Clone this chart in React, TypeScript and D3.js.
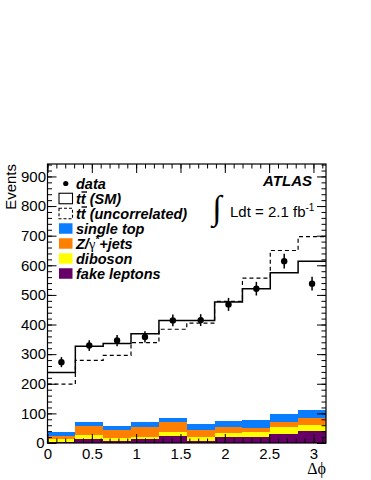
import React, { useEffect, useRef } from 'react';
import * as d3 from 'd3';

// bin edges of delta phi (10 bins from 0 to pi)
const binEdges = [0, 0.314, 0.628, 0.942, 1.257, 1.571, 1.885, 2.199, 2.513, 2.827, 3.1416];
const dataCounts = [273, 329, 346, 358, 414, 415, 468, 521, 614, 538];
const dataErrors = [17, 18, 19, 19, 20, 20, 22, 23, 25, 23];
const ttbarSM = [238, 327, 336, 369, 414, 414, 476, 521, 575, 614];
const ttbarUncorr = [199, 279, 296, 339, 384, 405, 478, 557, 650, 697];
const fakeLeptons = [4, 15, 8, 12, 24, 8, 19, 21, 29, 40];
const diboson = [8, 13, 10, 9, 14, 11, 16, 17, 24, 21];
const zJets = [13, 30, 26, 33, 32, 25, 20, 14, 17, 24];
const singleTop = [11, 14, 13, 16, 16, 19, 20, 25, 28, 26];
const xTicks = [0, 0.5, 1, 1.5, 2, 2.5, 3];
const yTicks = [0, 100, 200, 300, 400, 500, 600, 700, 800, 900];

const bkgLayers = [
  { key: 'fake', values: fakeLeptons, color: '#660066' },
  { key: 'diboson', values: diboson, color: '#ffff00' },
  { key: 'zjets', values: zJets, color: '#ff7f00' },
  { key: 'singletop', values: singleTop, color: '#0a7cff' }
];

const FONT = "'Liberation Sans', Arial, Helvetica, sans-serif";
const SERIF = "'Liberation Serif', 'Times New Roman', serif";

const DeltaPhiChart = () => {
  const ref = useRef<SVGSVGElement>(null);

  useEffect(() => {
    const svg = d3.select(ref.current);
    svg.selectAll('*').remove();

    const left = 47.5, right = 326, top = 164, bottom = 443;
    const x = d3.scaleLinear().domain([0, Math.PI]).range([left, right]);
    const y = d3.scaleLinear().domain([0, 942]).range([bottom, top]);

    svg.append('rect').attr('width', 371).attr('height', 480).attr('fill', '#fff');

    // stacked backgrounds
    const rows = binEdges.slice(0, -1).map((_, i) => {
      const r: any = { i };
      bkgLayers.forEach(l => { r[l.key] = l.values[i]; });
      return r;
    });
    const stacked = d3.stack().keys(bkgLayers.map(l => l.key))(rows);
    stacked.forEach((layer, li) => {
      svg.append('g')
        .selectAll('rect')
        .data(layer)
        .join('rect')
        .attr('x', (d: any) => x(binEdges[d.data.i]))
        .attr('width', (d: any) => x(binEdges[d.data.i + 1]) - x(binEdges[d.data.i]))
        .attr('y', d => y(d[1]))
        .attr('height', d => y(d[0]) - y(d[1]))
        .attr('fill', bkgLayers[li].color)
        .attr('shape-rendering', 'crispEdges');
    });

    // step histograms
    const step = d3.line<number[]>()
      .x(d => x(d[0]))
      .y(d => y(d[1]))
      .curve(d3.curveStepAfter);
    const stepPts = (vals: number[]) => [
      ...vals.map((v, i) => [binEdges[i], v]),
      [binEdges[binEdges.length - 1], vals[vals.length - 1]]
    ];
    svg.append('path')
      .attr('d', step(stepPts(ttbarUncorr)))
      .attr('fill', 'none')
      .attr('stroke', '#000')
      .attr('stroke-width', 1.2)
      .attr('stroke-dasharray', '4,3');
    svg.append('path')
      .attr('d', step(stepPts(ttbarSM)))
      .attr('fill', 'none')
      .attr('stroke', '#000')
      .attr('stroke-width', 1.5);

    // data points
    const centers = dataCounts.map((_, i) => (binEdges[i] + binEdges[i + 1]) / 2);
    const pts = svg.append('g');
    dataCounts.forEach((v, i) => {
      pts.append('line')
        .attr('x1', x(centers[i])).attr('x2', x(centers[i]))
        .attr('y1', y(v - dataErrors[i])).attr('y2', y(v + dataErrors[i]))
        .attr('stroke', '#000').attr('stroke-width', 1.5);
      pts.append('circle')
        .attr('cx', x(centers[i])).attr('cy', y(v)).attr('r', 3.2).attr('fill', '#000');
    });

    // frame
    svg.append('rect')
      .attr('x', left).attr('y', top)
      .attr('width', right - left).attr('height', bottom - top)
      .attr('fill', 'none').attr('stroke', '#000').attr('stroke-width', 1.2);

    const xMinor = d3.range(0, 3.15, 0.1);
    const yMinor = d3.range(0, 941, 20);

    const axisStyle = (g: any) => {
      g.select('.domain').remove();
      g.selectAll('line').attr('stroke', '#000').attr('stroke-width', 1);
      g.selectAll('text').style('font-family', FONT).style('font-size', '15px').attr('fill', '#000');
    };

    // bottom
    svg.append('g').attr('transform', `translate(0,${bottom})`)
      .call(d3.axisBottom(x).tickValues(xMinor).tickSize(-4.5).tickFormat(() => ''))
      .call(axisStyle);
    svg.append('g').attr('transform', `translate(0,${bottom})`)
      .call(d3.axisBottom(x).tickValues(xTicks).tickSize(-9).tickPadding(4).tickFormat(d3.format('')))
      .call(axisStyle)
      .selectAll('text').attr('y', 5);
    // top
    svg.append('g').attr('transform', `translate(0,${top})`)
      .call(d3.axisTop(x).tickValues(xMinor).tickSize(-4.5).tickFormat(() => ''))
      .call(axisStyle);
    svg.append('g').attr('transform', `translate(0,${top})`)
      .call(d3.axisTop(x).tickValues(xTicks).tickSize(-9).tickFormat(() => ''))
      .call(axisStyle);
    // left
    svg.append('g').attr('transform', `translate(${left},0)`)
      .call(d3.axisLeft(y).tickValues(yMinor).tickSize(-4.5).tickFormat(() => ''))
      .call(axisStyle);
    svg.append('g').attr('transform', `translate(${left},0)`)
      .call(d3.axisLeft(y).tickValues(yTicks).tickSize(-9).tickPadding(1.5).tickFormat(d3.format('')))
      .call(axisStyle)
      .selectAll('text').attr('x', (d: any) => (d === 0 ? -3 : -1.5));
    // right
    svg.append('g').attr('transform', `translate(${right},0)`)
      .call(d3.axisRight(y).tickValues(yMinor).tickSize(-4.5).tickFormat(() => ''))
      .call(axisStyle);
    svg.append('g').attr('transform', `translate(${right},0)`)
      .call(d3.axisRight(y).tickValues(yTicks).tickSize(-9).tickFormat(() => ''))
      .call(axisStyle);

    // axis titles
    svg.append('text')
      .attr('transform', 'translate(16,164) rotate(-90)')
      .attr('text-anchor', 'end')
      .style('font-family', FONT).style('font-size', '15px')
      .text('Events');
    svg.append('text')
      .attr('x', 326).attr('y', 474)
      .attr('text-anchor', 'end')
      .style('font-family', SERIF).style('font-size', '16px')
      .text('Δϕ');

    // ATLAS label and luminosity
    svg.append('text')
      .attr('x', 312).attr('y', 186)
      .attr('text-anchor', 'end')
      .style('font-family', FONT).style('font-size', '15px')
      .style('font-weight', 'bold').style('font-style', 'italic')
      .text('ATLAS');
    svg.append('text')
      .attr('x', 217).attr('y', 219)
      .attr('text-anchor', 'middle')
      .style('font-family', SERIF).style('font-size', '34px')
      .text('∫');
    const lumi = svg.append('text')
      .attr('x', 230).attr('y', 217)
      .style('font-family', FONT).style('font-size', '15px');
    lumi.append('tspan').text('Ldt = 2.1 fb');
    lumi.append('tspan').attr('dy', -6).style('font-size', '10px').text('-1');

    // legend
    const lg = svg.append('g');
    const legX = 59, legW = 13.5, legH = 10.5, textX = 76, rowH = 15, row0 = 183.5;
    const labelStyle = (t: any) => t
      .style('font-family', FONT).style('font-size', '14.5px')
      .style('font-weight', 'bold').style('font-style', 'italic');

    lg.append('circle').attr('cx', legX + legW / 2).attr('cy', row0).attr('r', 2.6).attr('fill', '#000');
    lg.append('text').attr('x', textX).attr('y', row0 + 5).call(labelStyle).text('data');

    const ttRows = [
      { label: ' (SM)', dash: null },
      { label: ' (uncorrelated)', dash: '3,2' }
    ];
    ttRows.forEach((r, i) => {
      const cy = row0 + rowH * (i + 1);
      lg.append('rect')
        .attr('x', legX).attr('y', cy - legH / 2).attr('width', legW).attr('height', legH)
        .attr('fill', '#fff').attr('stroke', '#000').attr('stroke-width', 1.1)
        .attr('stroke-dasharray', r.dash);
      lg.append('text').attr('x', textX).attr('y', cy + 5).call(labelStyle).text('tt' + r.label);
      // overline on the second t (anti-top)
      lg.append('line')
        .attr('x1', textX + 5.5).attr('x2', textX + 11)
        .attr('y1', cy - 6.5).attr('y2', cy - 6.5)
        .attr('stroke', '#000').attr('stroke-width', 1.4);
    });

    const bkgLegend = [
      { label: 'single top', color: '#0a7cff' },
      { label: 'Z/', color: '#ff7f00', gamma: true },
      { label: 'diboson', color: '#ffff00' },
      { label: 'fake leptons', color: '#660066' }
    ];
    bkgLegend.forEach((b, i) => {
      const cy = row0 + rowH * (i + 3);
      lg.append('rect')
        .attr('x', legX).attr('y', cy - legH / 2).attr('width', legW).attr('height', legH)
        .attr('fill', b.color);
      const t = lg.append('text').attr('x', textX).attr('y', cy + 5).call(labelStyle);
      t.append('tspan').text(b.label);
      if (b.gamma) {
        t.append('tspan').style('font-family', SERIF).style('font-weight', 'normal').style('font-style', 'normal').text('γ');
        t.append('tspan').attr('dy', -6).style('font-size', '10px').text('*');
        t.append('tspan').attr('dy', 6).text('+jets');
      }
    });
  }, []);

  return <svg ref={ref} width={371} height={480} style={{ position: 'absolute', left: 0, top: 0 }} />;
};

export default function App() {
  return <DeltaPhiChart />;
}
